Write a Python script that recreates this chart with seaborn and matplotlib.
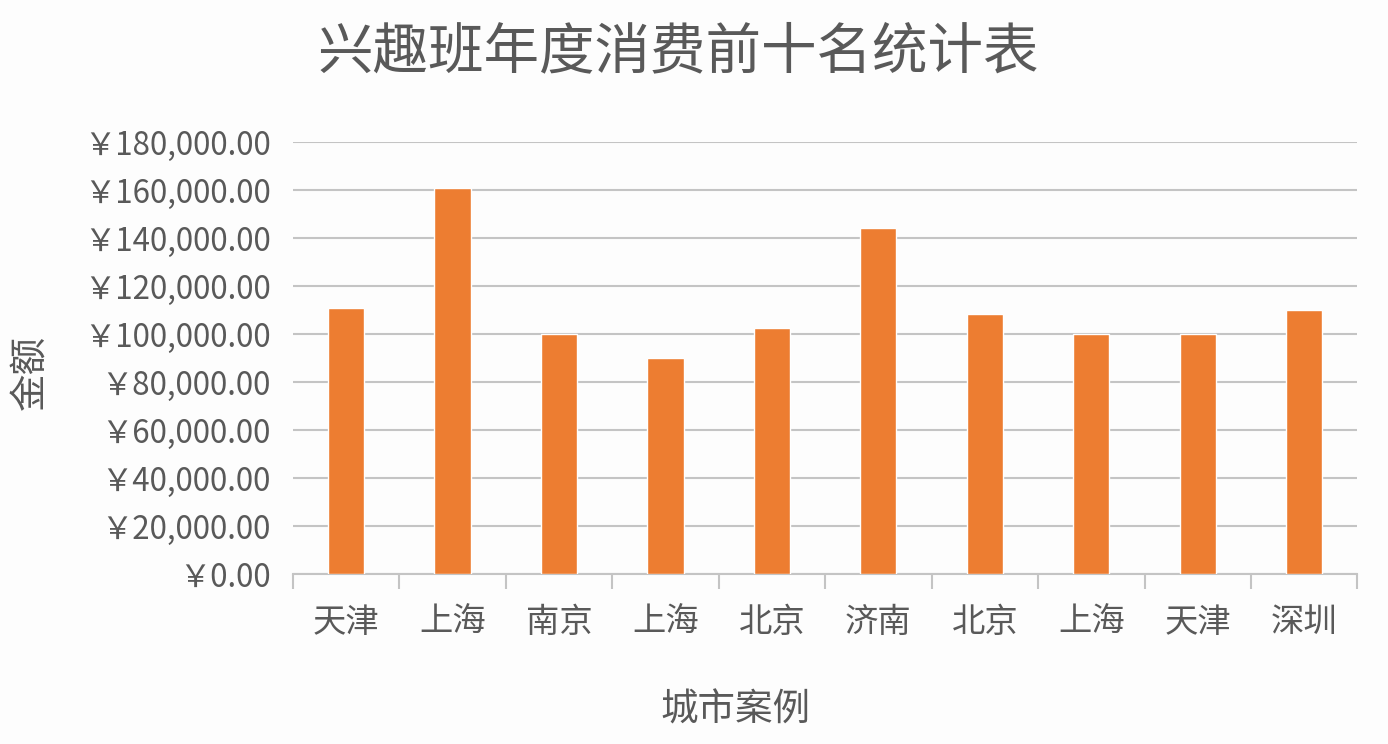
import matplotlib
matplotlib.use('Agg')
import pandas as pd
import matplotlib.pyplot as plt
import seaborn as sns
from matplotlib.ticker import FuncFormatter, FixedLocator

# values
cities = ['天津', '上海', '南京', '上海', '北京', '济南', '北京', '上海', '天津', '深圳']
amounts = [111000, 160700, 100000, 90000, 102500, 144200, 108500, 100000, 100000, 110100]
y_ticks = list(range(0, 180001, 20000))

sns.set_theme(style='white')
plt.rcParams['font.family'] = ['Noto Sans CJK SC', 'DejaVu Sans']

text_col = '#595959'
grid_col = '#c4c4c4'
bar_col = '#ed7d31'

df = pd.DataFrame({'idx': list(range(len(cities))), 'city': cities, 'amount': amounts})

fig = plt.figure(figsize=(13.88, 7.44), dpi=100, facecolor='#fdfdfd')
ax = fig.add_axes([0.211, 0.2285, 0.767, 0.5805])
ax.set_facecolor('#fdfdfd')

sns.barplot(data=df, x='idx', y='amount', color=bar_col, saturation=1,
            width=0.34, ax=ax, zorder=3)

ax.set_ylim(0, 180000)
ax.set_xlim(-0.5, len(cities) - 0.5)
ax.set_yticks(y_ticks)
ax.yaxis.set_major_formatter(FuncFormatter(lambda v, p: '￥{:,.2f}'.format(v)))
ax.set_xticks(range(len(cities)), labels=cities)
ax.xaxis.set_minor_locator(FixedLocator([i - 0.5 for i in range(len(cities) + 1)]))

ax.grid(axis='y', color=grid_col, linewidth=1.5, zorder=0)
for s in ['top', 'right', 'left']:
    ax.spines[s].set_visible(False)
ax.spines['bottom'].set_color(grid_col)
ax.spines['bottom'].set_linewidth(1.5)

ax.tick_params(axis='y', length=0, labelsize=22.5, labelcolor=text_col, pad=16)
ax.tick_params(axis='x', which='major', length=0, labelsize=24, labelcolor=text_col, pad=22)
ax.tick_params(axis='x', which='minor', bottom=True, length=11, width=1.5,
               color=grid_col, direction='out')

ax.set_xlabel('')
ax.set_ylabel('')

fig.text(0.489, 0.930, '兴趣班年度消费前十名统计表', ha='center', va='center',
         fontsize=40, color=text_col, fontweight='light')
fig.text(0.53, 0.046, '城市案例', ha='center', va='center', fontsize=27,
         color=text_col, fontweight='light')
fig.text(0.022, 0.5, '金额', ha='center', va='center', rotation=90, fontsize=27,
         color=text_col, fontweight='light')

fig.savefig('out.png', dpi=100, facecolor=fig.get_facecolor())
